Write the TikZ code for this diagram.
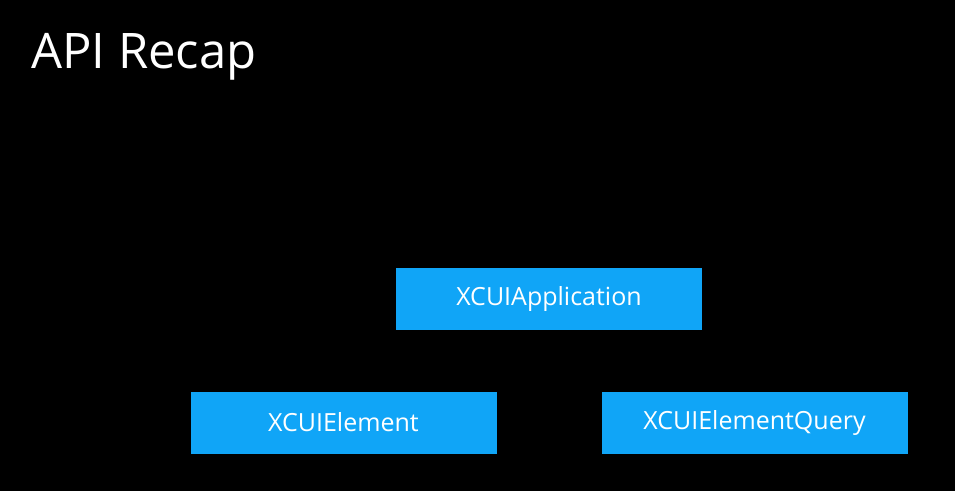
\documentclass[tikz,border=0pt]{standalone}
\usepackage{fontspec}
\setmainfont{Open Sans}
\usepackage{tikz}
\definecolor{slideblue}{HTML}{10A5F7}

\begin{document}
\begin{tikzpicture}[x=1pt,y=-1pt,
  classbox/.style={fill=slideblue,text=white,minimum width=306pt,
    minimum height=62pt,inner sep=0pt,font=\fontsize{25}{30}\selectfont}]
  % Hintergrund
  \fill[black] (0,0) rectangle (955,491);
  % Titel
  \node[anchor=base west,text=white,inner sep=0pt,
    font=\fontsize{49}{58}\selectfont] (title) at (31,68) {API Recap};
  % Klassen
  \node[classbox] (app) at (549,299) {XCUIApplication};
  \node[classbox] (elem) at (343.5,422.5) {XCUIElement};
  \node[classbox] (query) at (754.5,422.5) {XCUIElementQuery};
\end{tikzpicture}
\end{document}
